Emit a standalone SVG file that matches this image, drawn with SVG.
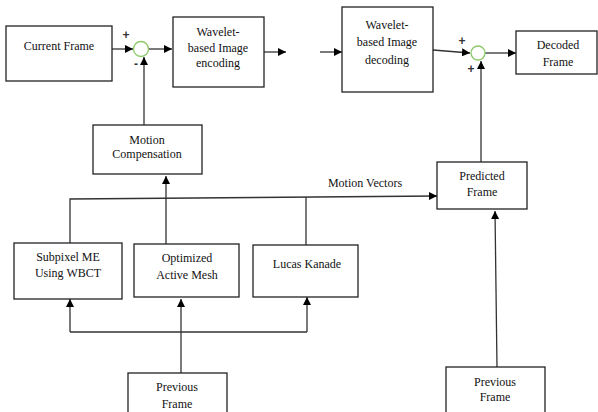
<svg xmlns="http://www.w3.org/2000/svg" width="598" height="412" viewBox="0 0 598 412">
<style>
.box{fill:#fff;stroke:#222;stroke-width:1.3}
.t{font-family:"Liberation Serif","Times New Roman","DejaVu Serif",serif;font-size:12px;fill:#111;text-anchor:middle}
.ln{fill:none;stroke:#333;stroke-width:1.3}
.sum{fill:#fff;stroke:#8cc96a;stroke-width:1.3}
.sg{font-family:"Liberation Sans",Arial,sans-serif;font-size:12px;font-weight:bold;fill:#333;text-anchor:middle}
</style>
<defs>
<marker id="ah" viewBox="0 0 10 10" refX="10" refY="5" markerWidth="8" markerHeight="8" markerUnits="userSpaceOnUse" orient="auto">
<path d="M0,0 L10,5 L0,10 z" fill="#000"/>
</marker>
</defs>
<rect width="598" height="412" fill="#fff"/>
<g id="connectors">
<line class="ln" x1="112" y1="49" x2="133" y2="49" marker-end="url(#ah)"/>
<line class="ln" x1="149" y1="49" x2="172" y2="49" marker-end="url(#ah)"/>
<line class="ln" x1="264" y1="52" x2="286" y2="52" marker-end="url(#ah)"/>
<line class="ln" x1="320" y1="52" x2="342" y2="52" marker-end="url(#ah)"/>
<line class="ln" x1="433" y1="50" x2="470" y2="53" marker-end="url(#ah)"/>
<line class="ln" x1="485" y1="53" x2="516" y2="53" marker-end="url(#ah)"/>
<line class="ln" x1="144" y1="125" x2="144" y2="57" marker-end="url(#ah)"/>
<line class="ln" x1="481" y1="162" x2="481" y2="61" marker-end="url(#ah)"/>
<line class="ln" x1="166" y1="244" x2="166" y2="176" marker-end="url(#ah)"/>
<polyline class="ln" points="70,243 70,199 437,196" marker-end="url(#ah)"/>
<line class="ln" x1="306" y1="245" x2="306" y2="197"/>
<line class="ln" x1="181" y1="373" x2="181" y2="299" marker-end="url(#ah)"/>
<line class="ln" x1="70" y1="332" x2="307" y2="332"/>
<line class="ln" x1="70" y1="332" x2="70" y2="299" marker-end="url(#ah)"/>
<line class="ln" x1="307" y1="332" x2="307" y2="297" marker-end="url(#ah)"/>
<line class="ln" x1="497" y1="367" x2="495" y2="211" marker-end="url(#ah)"/>
<text class="t" x="365" y="187">Motion Vectors</text>
</g>
<g id="sum1">
<circle class="sum" cx="141" cy="49" r="7.5"/>
<text class="sg" x="126" y="39">+</text>
<text class="sg" x="136" y="68">-</text>
</g>
<g id="sum2">
<circle class="sum" cx="478" cy="53" r="7"/>
<text class="sg" x="462" y="45">+</text>
<text class="sg" x="471" y="73">+</text>
</g>
<g id="current-frame">
<rect class="box" x="6" y="26" width="106" height="55"/>
<text class="t" x="59" y="50">Current Frame</text>
</g>
<g id="wavelet-encoding">
<rect class="box" x="173" y="17" width="91" height="70"/>
<text class="t" x="218" y="36">Wavelet-</text>
<text class="t" x="218" y="52">based Image</text>
<text class="t" x="218" y="67">encoding</text>
</g>
<g id="wavelet-decoding">
<rect class="box" x="342" y="7" width="91" height="85"/>
<text class="t" x="387" y="29">Wavelet-</text>
<text class="t" x="387" y="46">based Image</text>
<text class="t" x="387" y="64">decoding</text>
</g>
<g id="decoded-frame">
<rect class="box" x="516" y="31" width="81" height="43"/>
<text class="t" x="558" y="49">Decoded</text>
<text class="t" x="558" y="66">Frame</text>
</g>
<g id="motion-compensation">
<rect class="box" x="93" y="125" width="109" height="49"/>
<text class="t" x="147" y="144">Motion</text>
<text class="t" x="147" y="158">Compensation</text>
</g>
<g id="predicted-frame">
<rect class="box" x="437" y="162" width="90" height="47"/>
<text class="t" x="482" y="180">Predicted</text>
<text class="t" x="482" y="196">Frame</text>
</g>
<g id="subpixel-me">
<rect class="box" x="14" y="243" width="108" height="56"/>
<text class="t" x="68" y="261">Subpixel ME</text>
<text class="t" x="68" y="277">Using WBCT</text>
</g>
<g id="optimized-active-mesh">
<rect class="box" x="134" y="244" width="105" height="53"/>
<text class="t" x="187" y="262">Optimized</text>
<text class="t" x="187" y="279">Active Mesh</text>
</g>
<g id="lucas-kanade">
<rect class="box" x="253" y="245" width="105" height="52"/>
<text class="t" x="307" y="268">Lucas Kanade</text>
</g>
<g id="previous-frame-1">
<rect class="box" x="128" y="373" width="99" height="45"/>
<text class="t" x="177" y="391">Previous</text>
<text class="t" x="177" y="408">Frame</text>
</g>
<g id="previous-frame-2">
<rect class="box" x="446" y="367" width="99" height="51"/>
<text class="t" x="495" y="386">Previous</text>
<text class="t" x="495" y="401">Frame</text>
</g>
</svg>
